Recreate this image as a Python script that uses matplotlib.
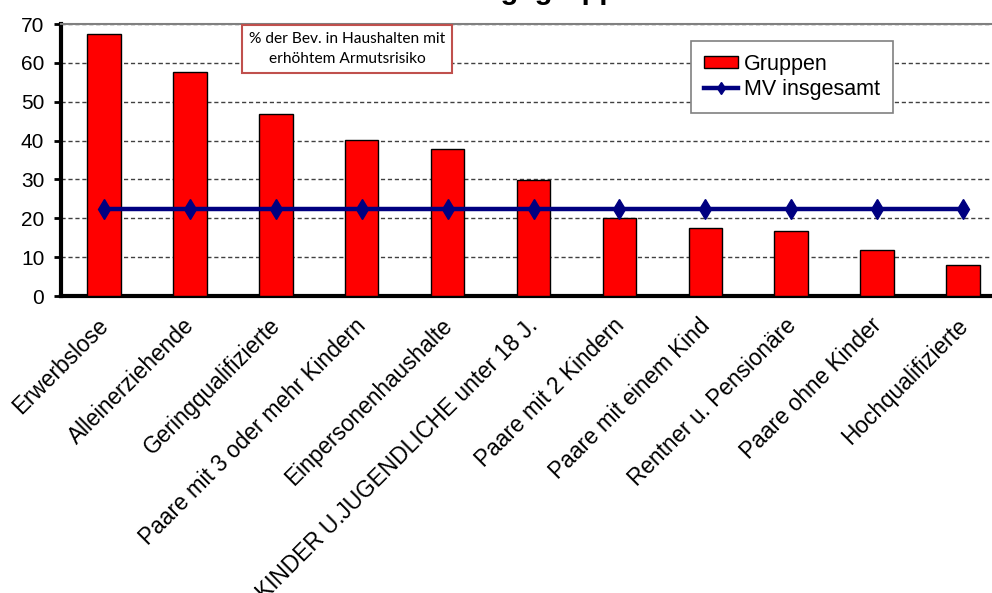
import numpy as np
import matplotlib
matplotlib.use("Agg")
import matplotlib.pyplot as plt
from matplotlib.transforms import ScaledTranslation

plt.rcParams["font.family"] = ["Liberation Sans", "DejaVu Sans"]

CATEGORIES = ["Erwerbslose", "Alleinerziehende", "Geringqualifizierte",
              "Paare mit 3 oder mehr Kindern", "Einpersonenhaushalte",
              "KINDER U.JUGENDLICHE unter 18 J.", "Paare mit 2 Kindern",
              "Paare mit einem Kind", "Rentner u. Pensionäre",
              "Paare ohne Kinder", "Hochqualifizierte"]
GRUPPEN = [67.4, 57.7, 46.8, 40.1, 37.8, 29.9, 20.0, 17.4, 16.7, 11.8, 8.0]
MV_INSGESAMT = [22.3] * len(CATEGORIES)
Y_TICKS = [0, 10, 20, 30, 40, 50, 60, 70]

TITLE = "Bevölkerungsgruppen"
NOTE = "% der Bev. in Haushalten mit\nerhöhtem Armutsrisiko"

fig = plt.figure(figsize=(9.92, 5.93), dpi=100)
ax = fig.add_axes([61 / 992, 1 - 296 / 593, 945 / 992, 272 / 593])

x = np.arange(len(CATEGORIES))
bars = ax.bar(x, GRUPPEN, width=0.39, color="#ff0000", edgecolor="black",
              linewidth=1.0, label="Gruppen", zorder=3)
line, = ax.plot(x, MV_INSGESAMT, color="#000080", lw=3.2, marker="d", ms=10,
                label="MV insgesamt", zorder=4)

ax.set_xlim(-0.5, len(CATEGORIES) - 0.5)
ax.set_ylim(0, 70)
ax.set_yticks(Y_TICKS)
ax.tick_params(axis="y", labelsize=15, width=2, length=5, direction="out", pad=7)
ax.set_xticks(x)
ax.set_xticklabels(CATEGORIES, rotation=45, ha="right", rotation_mode="anchor",
                   fontsize=16.3)
ax.tick_params(axis="x", length=0, pad=13)
# nudge the rotated labels a little to the left, like the original
shift = ScaledTranslation(-7 / 100, 0, fig.dpi_scale_trans)
for lbl in ax.get_xticklabels():
    lbl.set_transform(lbl.get_transform() + shift)

ax.yaxis.grid(True, color="#404040", linestyle=(0, (3, 2)), lw=1.0, zorder=0)
ax.spines["left"].set_linewidth(3)
ax.spines["bottom"].set_linewidth(3)
ax.spines["top"].set_color("#808080")
ax.spines["top"].set_linewidth(1.5)
ax.spines["right"].set_color("#808080")

ax.text((347 - 61) / 945, (296 - 49) / 272, NOTE, transform=ax.transAxes,
        ha="center", va="center", fontsize=11.2, family="Lato", linespacing=1.5,
        bbox=dict(boxstyle="square,pad=0.45", fc="white", ec="#c0504d", lw=1.5),
        zorder=5)

leg = ax.legend([bars, line], ["Gruppen", "MV insgesamt"],
                loc="upper left", bbox_to_anchor=((691 - 61) / 945, (296 - 41) / 272),
                borderaxespad=0, fontsize=15.5, fancybox=False, framealpha=1,
                edgecolor="#808080", handlelength=1.6, handleheight=0.5,
                handletextpad=0.25, labelspacing=0.2, borderpad=0.6,
                markerscale=0.6)
leg.get_frame().set_linewidth(1.2)
leg.set_zorder(6)

fig.text(0.5, 1 + 1 / 593, TITLE, ha="center", va="baseline",
         fontsize=21, fontweight="bold")

fig.savefig("out.png", dpi=100)
